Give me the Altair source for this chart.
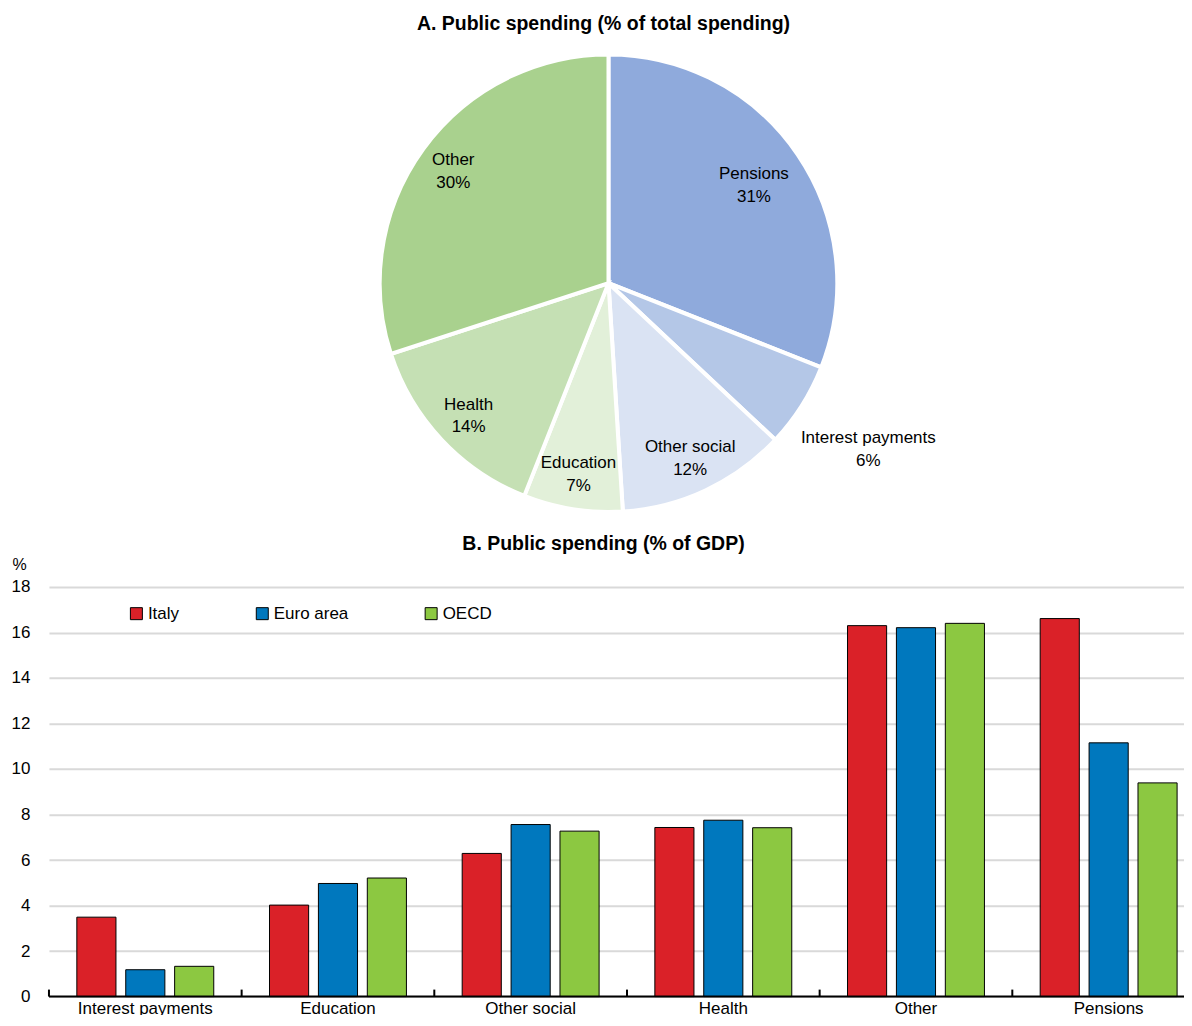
import math
import altair as alt
import pandas as pd

FONT = "Liberation Sans"

# ---- Panel A data ----
pie_categories = ["Pensions", "Interest payments", "Other social", "Education", "Health", "Other"]
pie_shares = [31, 6, 12, 7, 14, 30]
pie_colors = ["#8FAADC", "#B4C7E7", "#DAE3F3", "#E2F0D9", "#C5E0B4", "#A9D18E"]

# ---- Panel B data ----
bar_categories = ["Interest payments", "Education", "Other social", "Health", "Other", "Pensions"]
series_names = ["Italy", "Euro area", "OECD"]
italy = [3.49, 4.02, 6.29, 7.43, 16.30, 16.61]
euro_area = [1.18, 4.97, 7.56, 7.75, 16.21, 11.15]
oecd = [1.33, 5.21, 7.27, 7.42, 16.40, 9.39]
bar_colors = ["#DA2128", "#0078BE", "#8CC841"]

pie_df = pd.DataFrame({"cat": pie_categories, "share": pie_shares, "idx": list(range(len(pie_categories)))})

rows = []
for s, vals in zip(series_names, [italy, euro_area, oecd]):
    for c, v in zip(bar_categories, vals):
        rows.append({"cat": c, "series": s, "value": v})
bar_df = pd.DataFrame(rows)

theta_scale = alt.Scale(domain=[0, 100], range=[0, 2 * math.pi])

base = (
    alt.Chart(pie_df)
    .transform_window(cum="sum(share)", sort=[alt.SortField("idx")], frame=[None, 0])
    .transform_calculate(
        start="datum.cum - datum.share",
        mid="datum.cum - datum.share / 2",
        label="datum.cat + '\\n' + datum.share + '%'",
    )
)

arcs = base.mark_arc(outerRadius=229, stroke="white", strokeWidth=4).encode(
    theta=alt.Theta("start:Q", scale=theta_scale),
    theta2="cum:Q",
    color=alt.Color("cat:N", scale=alt.Scale(domain=pie_categories, range=pie_colors), legend=None),
)


def pie_text(expr, r):
    return base.transform_filter(expr).mark_text(
        radius=r, lineBreak="\n", font=FONT, fontSize=17, lineHeight=23, dy=-10, color="black"
    ).encode(theta=alt.Theta("mid:Q", scale=theta_scale), text="label:N")


t_main = pie_text("datum.cat != 'Pensions' && datum.cat != 'Interest payments'", 192)
t_pen = pie_text("datum.cat == 'Pensions'", 176)
t_int = pie_text("datum.cat == 'Interest payments'", 308)

pie = alt.layer(arcs, t_main, t_pen, t_int).properties(
    width=1120,
    height=470,
    title=alt.TitleParams(
        "A. Public spending (% of total spending)", font=FONT, fontSize=19.5, fontWeight="bold",
        dx=-5, offset=12,
    ),
)

bars = alt.Chart(bar_df).mark_bar(stroke="black", strokeWidth=1).encode(
    x=alt.X(
        "cat:N",
        sort=bar_categories,
        scale=alt.Scale(paddingInner=0, paddingOuter=0, range=[0, 1157]),
        axis=alt.Axis(
            title=None, labelAngle=0, ticks=False, domain=False,
            labelFont=FONT, labelFontSize=17, labelColor="black", labelPadding=4, grid=False,
        ),
    ),
    xOffset=alt.XOffset("series:N", sort=series_names, scale=alt.Scale(paddingInner=0.2, paddingOuter=0.57)),
    y=alt.Y(
        "value:Q",
        scale=alt.Scale(domain=[0, 18]),
        axis=alt.Axis(
            values=list(range(0, 19, 2)), title="%", titleAngle=0, titleX=-30, titleY=-14,
            titleFont=FONT, titleFontSize=16, titleFontWeight="normal", titleColor="black",
            domain=False, ticks=False, gridColor="#D9D9D9", gridWidth=2,
            labelFont=FONT, labelFontSize=17, labelColor="black", labelPadding=19,
        ),
    ),
    color=alt.Color(
        "series:N",
        scale=alt.Scale(domain=series_names, range=bar_colors),
        legend=alt.Legend(
            title=None, orient="none", legendX=79, legendY=18, direction="horizontal",
            symbolType="square", symbolSize=144, symbolStrokeColor="black", symbolStrokeWidth=1,
            labelFont=FONT, labelFontSize=17, labelColor="black", columnPadding=74, labelOffset=3,
        ),
    ),
)

ticks = alt.Chart(pd.DataFrame({"cat": bar_categories})).mark_rule(color="black", strokeWidth=2).encode(
    x=alt.X("cat:N", sort=bar_categories, bandPosition=0),
    y=alt.value(410),
    y2=alt.value(403),
)

baseline = alt.Chart(pd.DataFrame({"cat": bar_categories[:1]})).mark_rule(color="black", strokeWidth=2).encode(
    x=alt.value(0),
    x2=alt.value(1144),
    y=alt.value(410),
)

bar_chart = alt.layer(bars, ticks, baseline).properties(
    width=1144,
    height=410,
    title=alt.TitleParams(
        "B. Public spending (% of GDP)", font=FONT, fontSize=19.5, fontWeight="bold", dx=-17, offset=2
    ),
)

chart = (
    alt.vconcat(pie, bar_chart, spacing=14)
    .resolve_scale(color="independent")
    .properties(padding={"left": 3, "top": 5, "right": -21, "bottom": -2})
    .configure_view(stroke=None)
)

chart.save("out.html", embed_options={"renderer": "svg", "actions": False})
